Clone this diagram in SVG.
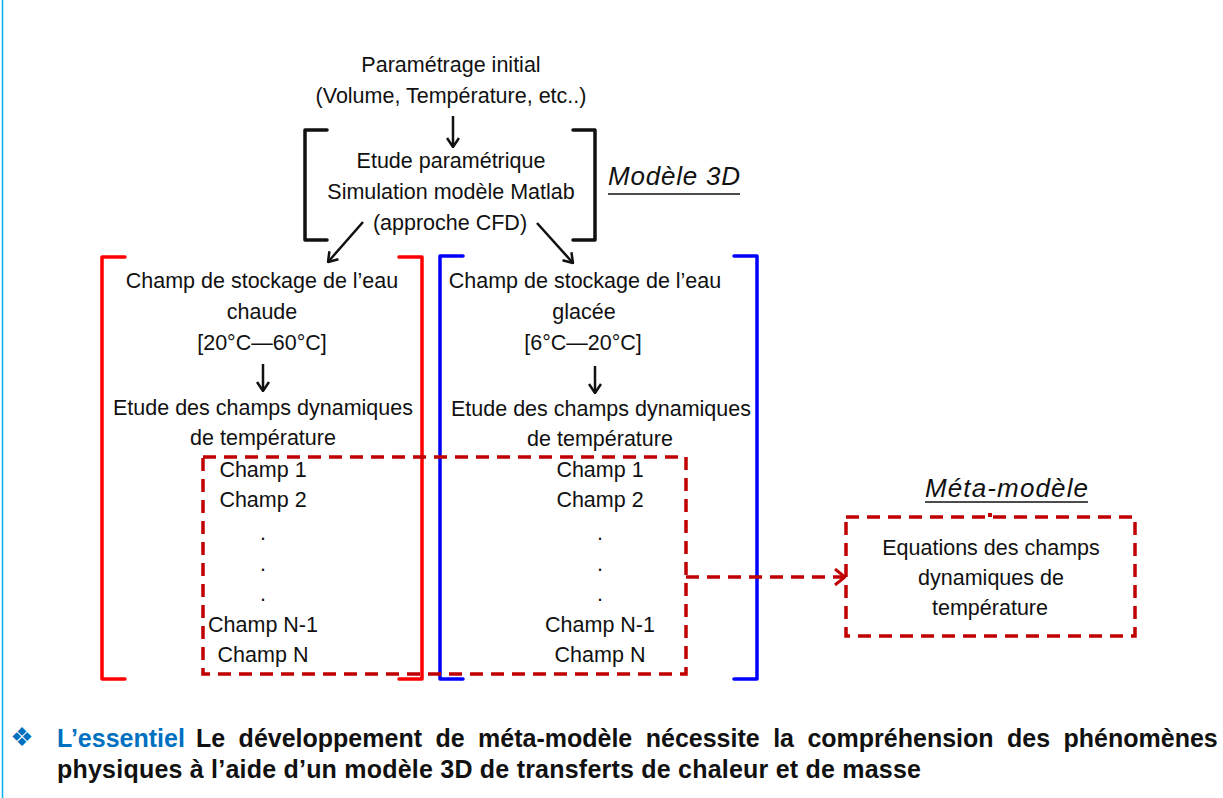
<svg xmlns="http://www.w3.org/2000/svg" width="1223" height="798" viewBox="0 0 1223 798">
<style>
.t{font-family:"Liberation Sans",Arial,sans-serif;font-size:21.5px;fill:#111;text-anchor:middle}
.it{font-family:"Liberation Sans",Arial,sans-serif;font-size:26px;font-style:italic;fill:#111}
.b{font-family:"Liberation Sans",Arial,sans-serif;font-size:25px;font-weight:bold;fill:#111}
.br{fill:none;stroke-width:3.5;stroke-linejoin:round;stroke-linecap:round}
.ar{fill:none;stroke:#111;stroke-width:2.5}
.dash{fill:none;stroke:#C00000;stroke-width:3.5;stroke-dasharray:13 8}
</style>
<defs>
<marker id="ak" viewBox="0 0 11 14" refX="10" refY="7" markerWidth="11" markerHeight="14" markerUnits="userSpaceOnUse" orient="auto">
<path d="M1,1 L10,7 L1,13" fill="none" stroke="#111" stroke-width="2.5"/>
</marker>
<marker id="ar" viewBox="0 0 12 18" refX="11" refY="9" markerWidth="12" markerHeight="18" markerUnits="userSpaceOnUse" orient="auto">
<path d="M1,1 L11,9 L1,17" fill="none" stroke="#C00000" stroke-width="3"/>
</marker>
</defs>
<rect width="1223" height="798" fill="#fff"/>
<line x1="2.5" y1="0" x2="2.5" y2="798" stroke="#00B0F0" stroke-width="1.5"/>

<g id="init">
<text class="t" x="451" y="72">Paramétrage initial</text>
<text class="t" x="451" y="103">(Volume, Température, etc..)</text>
</g>

<g id="modele3d">
<path class="br" stroke="#111" d="M327,130 L305,130 L305,240 L327,240"/>
<path class="br" stroke="#111" d="M573,130 L595,130 L595,240 L573,240"/>
<text class="t" x="451" y="168">Etude paramétrique</text>
<text class="t" x="451" y="199">Simulation modèle Matlab</text>
<text class="t" x="450" y="230">(approche CFD)</text>
<text class="it" x="608" y="185" textLength="132" lengthAdjust="spacing">Modèle 3D</text>
<line x1="608" y1="194" x2="740" y2="194" stroke="#111" stroke-width="1.5"/>
</g>

<g id="chaude">
<path class="br" stroke="#FF0000" d="M125,257 L102,257 L102,679 L125,679"/>
<path class="br" stroke="#FF0000" d="M399,257 L422,257 L422,679 L399,679"/>
<text class="t" x="262" y="288">Champ de stockage de l’eau</text>
<text class="t" x="262" y="319">chaude</text>
<text class="t" x="262" y="350">[20°C—60°C]</text>
<text class="t" x="263" y="415">Etude des champs dynamiques</text>
<text class="t" x="263" y="445">de température</text>
</g>

<g id="glacee">
<path class="br" stroke="#0000FF" d="M463,256 L440,256 L440,679 L463,679"/>
<path class="br" stroke="#0000FF" d="M734,256 L757,256 L757,679 L734,679"/>
<text class="t" x="585" y="288">Champ de stockage de l’eau</text>
<text class="t" x="584" y="319">glacée</text>
<text class="t" x="583" y="350">[6°C—20°C]</text>
<text class="t" x="601" y="416">Etude des champs dynamiques</text>
<text class="t" x="600" y="446">de température</text>
</g>

<g id="champs">
<rect class="dash" x="203" y="457" width="483" height="217"/>
<text class="t" x="263" y="477">Champ 1</text>
<text class="t" x="263" y="507">Champ 2</text>
<text class="t" x="263" y="540">.</text>
<text class="t" x="263" y="571">.</text>
<text class="t" x="263" y="601">.</text>
<text class="t" x="263" y="632">Champ N-1</text>
<text class="t" x="263" y="662">Champ N</text>
<text class="t" x="600" y="477">Champ 1</text>
<text class="t" x="600" y="507">Champ 2</text>
<text class="t" x="600" y="540">.</text>
<text class="t" x="600" y="571">.</text>
<text class="t" x="600" y="601">.</text>
<text class="t" x="600" y="632">Champ N-1</text>
<text class="t" x="600" y="662">Champ N</text>
</g>

<g id="metamodele">
<text class="it" x="925" y="497" textLength="163" lengthAdjust="spacing">Méta-modèle</text>
<line x1="925" y1="502" x2="1088" y2="502" stroke="#111" stroke-width="1.5"/>
<rect class="dash" x="846" y="517" width="289" height="119" stroke-dasharray="13 7" stroke-width="3"/>
<rect x="988" y="513" width="4" height="4" fill="#C00000"/>
<text class="t" x="991" y="555">Equations des champs</text>
<text class="t" x="991" y="585">dynamiques de</text>
<text class="t" x="990" y="615">température</text>
</g>

<g id="connectors">
<line class="ar" x1="453" y1="116" x2="453" y2="147" marker-end="url(#ak)"/>
<line class="ar" x1="363" y1="222" x2="328" y2="262" marker-end="url(#ak)"/>
<line class="ar" x1="537" y1="223" x2="573" y2="263" marker-end="url(#ak)"/>
<line class="ar" x1="263" y1="364" x2="263" y2="391" marker-end="url(#ak)"/>
<line class="ar" x1="595" y1="366" x2="595" y2="393" marker-end="url(#ak)"/>
<line class="dash" x1="686" y1="577" x2="845" y2="577" stroke-dasharray="14 9" marker-end="url(#ar)"/>
</g>

<g id="essentiel">
<text x="22" y="746" font-family="DejaVu Sans,sans-serif" font-size="26" fill="#0070C0" text-anchor="middle">❖</text>
<text class="b" x="57" y="747" style="fill:#0070C0">L’essentiel</text>
<text class="b" x="196" y="747" word-spacing="6.5">Le développement de méta-modèle nécessite la compréhension des phénomènes</text>
<text class="b" x="57" y="778" textLength="864" lengthAdjust="spacing">physiques à l’aide d’un modèle 3D de transferts de chaleur et de masse</text>
</g>
</svg>
